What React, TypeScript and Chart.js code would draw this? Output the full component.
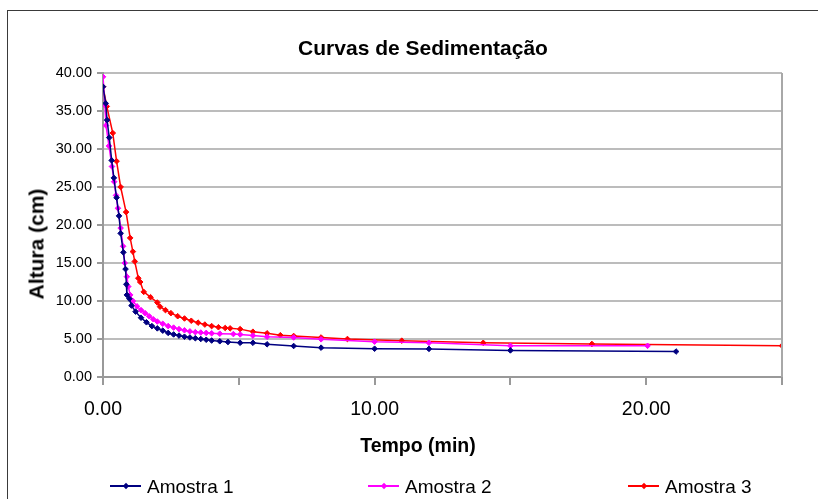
import React, { useEffect, useRef } from "react";
import { Chart, registerables } from "chart.js";

Chart.register(...registerables);

const chartTitle = "Curvas de Sedimentação";
const xTitle = "Tempo (min)";
const yTitle = "Altura (cm)";
const seriesNames = ["Amostra 1", "Amostra 2", "Amostra 3"];
const seriesColors = ["#000080", "#FF00FF", "#FF0000"];

const t1 = [0, 0.1, 0.15, 0.23, 0.32, 0.4, 0.5, 0.59, 0.65, 0.75, 0.83, 0.86, 0.88, 0.97, 1.05, 1.2, 1.4, 1.6, 1.8, 2.0, 2.2, 2.4, 2.6, 2.8, 3.0, 3.2, 3.4, 3.6, 3.8, 4.0, 4.3, 4.6, 5.05, 5.52, 6.04, 7.02, 8.03, 10.0, 12.0, 15.0, 21.1];
const h1 = [38.2, 36.0, 33.8, 31.5, 28.5, 26.2, 23.6, 21.2, 18.9, 16.4, 14.2, 12.2, 10.8, 10.3, 9.4, 8.6, 7.8, 7.2, 6.7, 6.4, 6.1, 5.8, 5.6, 5.45, 5.3, 5.2, 5.1, 5.0, 4.9, 4.8, 4.7, 4.6, 4.5, 4.5, 4.3, 4.08, 3.86, 3.72, 3.7, 3.5, 3.35];

const t2 = [0, 0.07, 0.11, 0.22, 0.33, 0.41, 0.48, 0.55, 0.65, 0.74, 0.8, 0.88, 0.93, 1.0, 1.1, 1.25, 1.4, 1.55, 1.7, 1.85, 2.0, 2.2, 2.4, 2.6, 2.8, 3.0, 3.2, 3.4, 3.6, 3.8, 4.0, 4.3, 4.8, 5.05, 5.52, 6.04, 7.02, 8.03, 10.0, 12.0, 15.0, 20.05];
const h2 = [39.5, 35.8, 33.1, 30.4, 27.7, 25.7, 23.9, 22.2, 19.6, 17.2, 15.0, 13.2, 11.9, 10.8, 10.0, 9.3, 8.8, 8.4, 8.0, 7.6, 7.3, 7.0, 6.7, 6.5, 6.3, 6.15, 6.0, 5.9, 5.85, 5.8, 5.75, 5.7, 5.65, 5.6, 5.45, 5.3, 5.2, 4.96, 4.65, 4.5, 4.1, 4.1];

const t3 = [0, 0.14, 0.36, 0.5, 0.65, 0.85, 1.0, 1.1, 1.17, 1.3, 1.37, 1.5, 1.75, 2.0, 2.1, 2.3, 2.5, 2.75, 3.0, 3.25, 3.5, 3.75, 4.0, 4.25, 4.5, 4.68, 5.05, 5.52, 6.04, 6.53, 7.02, 8.03, 9.0, 11.0, 14.0, 18.0, 25.0];
const h3 = [38.2, 35.6, 32.1, 28.4, 25.0, 21.7, 18.3, 16.5, 15.2, 13.0, 12.5, 11.2, 10.5, 9.8, 9.25, 8.8, 8.4, 8.0, 7.7, 7.4, 7.15, 6.9, 6.7, 6.55, 6.45, 6.4, 6.3, 5.96, 5.75, 5.5, 5.4, 5.2, 5.0, 4.78, 4.5, 4.35, 4.12];

const xTicks = [0, 10, 20];
const yTicks = [0, 5, 10, 15, 20, 25, 30, 35, 40];

const seriesT = [t1, t2, t3];
const seriesH = [h1, h2, h3];

const FONT = "'Liberation Sans', Arial, sans-serif";

export default function App() {
  const canvasRef = useRef<HTMLCanvasElement | null>(null);

  useEffect(() => {
    const canvas = canvasRef.current;
    if (!canvas) return;

    const frame = {
      id: "frame",
      afterDraw(chart: any) {
        const { ctx, chartArea } = chart;
        ctx.save();
        ctx.strokeStyle = "#a8a8a8";
        ctx.lineWidth = 2;
        ctx.beginPath();
        ctx.moveTo(chartArea.right, chartArea.top);
        ctx.lineTo(chartArea.right, chartArea.bottom);
        ctx.stroke();
        ctx.restore();
      },
    };

    const chart = new Chart(canvas, {
      type: "line",
      data: {
        datasets: seriesNames.map((name, i) => ({
          label: name,
          data: seriesT[i].map((t, j) => ({ x: t, y: seriesH[i][j] })),
          borderColor: seriesColors[i],
          backgroundColor: seriesColors[i],
          borderWidth: 1.5,
          pointStyle: "rectRot",
          pointRadius: 2.8,
          pointBorderWidth: 1,
          pointBorderColor: seriesColors[i],
          pointBackgroundColor: seriesColors[i],
          tension: 0,
          fill: false,
        })),
      },
      options: {
        animation: false,
        responsive: false,
        maintainAspectRatio: false,
        layout: { padding: { top: 73, right: 36, bottom: 0, left: 0 } },
        plugins: {
          legend: { display: false },
          title: { display: false },
          tooltip: { enabled: false },
        },
        scales: {
          x: {
            type: "linear",
            min: 0,
            max: 25,
            afterFit: (scale: any) => {
              scale.height = 122;
            },
            ticks: {
              stepSize: 5,
              autoSkip: false,
              maxRotation: 0,
              padding: 13,
              color: "#000",
              font: { family: FONT, size: 19.5 },
              callback: (v: any) => (xTicks.includes(Number(v)) ? Number(v).toFixed(2) : ""),
            },
            grid: {
              drawOnChartArea: false,
              drawTicks: true,
              tickLength: 8,
              color: "#999",
              lineWidth: 2,
            },
            border: { display: true, color: "#999", width: 2 },
          },
          y: {
            type: "linear",
            min: 0,
            max: 40,
            afterFit: (scale: any) => {
              scale.width = 103;
            },
            ticks: {
              stepSize: 5,
              autoSkip: false,
              padding: 5,
              color: "#000",
              font: { family: FONT, size: 14.5 },
              callback: (v: any) => (yTicks.includes(Number(v)) ? Number(v).toFixed(2) : ""),
            },
            grid: {
              drawTicks: true,
              tickLength: 6,
              color: "#bcbcbc",
              tickColor: "#999",
              lineWidth: 2,
            },
            border: { display: true, color: "#999", width: 2 },
          },
        },
      },
      plugins: [frame],
    });

    return () => chart.destroy();
  }, []);

  const textBase: React.CSSProperties = {
    position: "absolute",
    fontFamily: FONT,
    color: "#000",
    whiteSpace: "nowrap",
    lineHeight: 1,
  };

  const legendX = [110, 368, 628];

  return (
    <div
      style={{
        position: "fixed",
        left: 0,
        top: 0,
        width: 818,
        height: 499,
        overflow: "hidden",
        background: "#fff",
      }}
    >
      <div
        style={{
          position: "absolute",
          left: 7,
          top: 10,
          width: 900,
          height: 600,
          border: "1.5px solid #3a3a3a",
        }}
      />
      <canvas
        ref={canvasRef}
        width={818}
        height={499}
        style={{ position: "absolute", left: 0, top: 0, width: 818, height: 499 }}
      />
      <div
        style={{
          ...textBase,
          left: 423,
          top: 47 - 10.5,
          transform: "translateX(-50%)",
          fontSize: 21,
          fontWeight: "bold",
        }}
      >
        {chartTitle}
      </div>
      <div
        style={{
          ...textBase,
          left: 418,
          top: 446 - 9.75,
          transform: "translateX(-50%)",
          fontSize: 19.5,
          fontWeight: "bold",
        }}
      >
        {xTitle}
      </div>
      <div
        style={{
          ...textBase,
          left: 36,
          top: 244,
          transform: "translate(-50%, -50%) rotate(-90deg)",
          fontSize: 21,
          fontWeight: "bold",
        }}
      >
        {yTitle}
      </div>
      {seriesNames.map((name, i) => (
        <div key={name}>
          <div
            style={{
              position: "absolute",
              left: legendX[i],
              top: 485,
              width: 31,
              height: 1.5,
              background: seriesColors[i],
            }}
          />
          <div
            style={{
              position: "absolute",
              left: legendX[i] + 15.5 - 3,
              top: 485.75 - 3,
              width: 6,
              height: 6,
              background: seriesColors[i],
              transform: "rotate(45deg) scale(0.75)",
            }}
          />
          <div
            style={{
              ...textBase,
              left: legendX[i] + 37,
              top: 486 - 9.5,
              fontSize: 19,
            }}
          >
            {name}
          </div>
        </div>
      ))}
    </div>
  );
}
